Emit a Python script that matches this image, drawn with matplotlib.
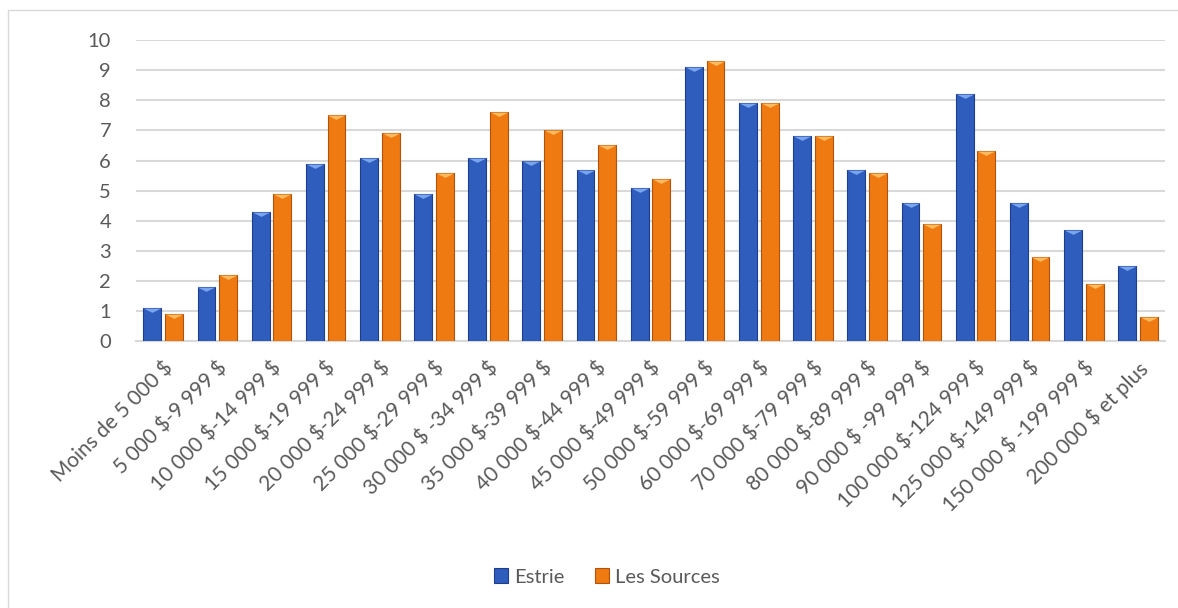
import numpy as np
import matplotlib.pyplot as plt
from matplotlib.patches import Rectangle

# Catégories de revenu et pourcentages
categories = ['Moins de 5 000 $', '5 000 $-9 999 $', '10 000 $-14 999 $',
              '15 000 $-19 999 $', '20 000 $-24 999 $', '25 000 $-29 999 $',
              '30 000 $ -34 999 $', '35 000 $-39 999 $', '40 000 $-44 999 $',
              '45 000 $-49 999 $', '50 000 $-59 999 $', '60 000 $-69 999 $',
              '70 000 $-79 999 $', '80 000 $-89 999 $', '90 000 $ -99 999 $',
              '100 000 $-124 999 $', '125 000 $-149 999 $',
              '150 000 $ -199 999 $', '200 000 $ et plus']
estrie = [1.1, 1.8, 4.3, 5.9, 6.1, 4.9, 6.1, 6.0, 5.7, 5.1,
          9.1, 7.9, 6.8, 5.7, 4.6, 8.2, 4.6, 3.7, 2.5]
sources = [0.9, 2.2, 4.9, 7.5, 6.9, 5.6, 7.6, 7.0, 6.5, 5.4,
           9.3, 7.9, 6.8, 5.6, 3.9, 6.3, 2.8, 1.9, 0.8]
yticks = [0, 1, 2, 3, 4, 5, 6, 7, 8, 9, 10]

plt.rcParams['font.family'] = ['Lato', 'DejaVu Sans']
gris = '#595959'

fig = plt.figure(figsize=(11.78, 6.08), dpi=100)
ax = fig.add_axes([0.1155, 0.439, 0.8735, 0.495])

x = np.arange(len(categories))
w = 0.33
off = 0.2

# biseau : triangle plat en haut de chaque barre
biseau = [(-1, 0), (1, 0), (0, -0.5), (-1, 0)]

series = [(estrie, -off, '#2F5DBE', '#1D3F8A', '#79A4EE', 'Estrie'),
          (sources, off, '#F07A12', '#B0530A', '#FFBA5C', 'Les Sources')]
for vals, dx, col, edge, top, lab in series:
    ax.bar(x + dx, vals, width=w, color=col, edgecolor=edge,
           linewidth=0.8, label=lab, zorder=3)
    ax.scatter(x + dx, vals, marker=biseau, s=160,
               color=top, linewidths=0, zorder=4)

ax.set_xlim(-0.5, len(categories) - 0.5)
ax.set_ylim(0, 10)
ax.set_yticks(yticks)
ax.set_xticks(x)
ax.set_xticklabels(categories, rotation=45, ha='right', parse_math=False,
                   rotation_mode='anchor', fontsize=15, color=gris)
ax.tick_params(axis='y', labelsize=14.5, labelcolor=gris, length=0, pad=18)
ax.tick_params(axis='x', length=0, pad=12)
ax.grid(axis='y', color='#D9D9D9', linewidth=1.5, zorder=0)
for s in ['top', 'right', 'left']:
    ax.spines[s].set_visible(False)
ax.spines['bottom'].set_color('#D9D9D9')
ax.spines['bottom'].set_linewidth(1.5)

fig.legend(loc='center', bbox_to_anchor=(0.515, 0.051), ncol=2,
           frameon=False, fontsize=14.5, labelcolor=gris,
           handlelength=0.7, handleheight=0.7, columnspacing=1.5,
           handletextpad=0.3)

# cadre du graphique
fig.add_artist(Rectangle((0.007, -0.01), 1.0, 0.993, transform=fig.transFigure,
                         fill=False, edgecolor='#D9D9D9', linewidth=1))

fig.savefig('out.png', dpi=100)
